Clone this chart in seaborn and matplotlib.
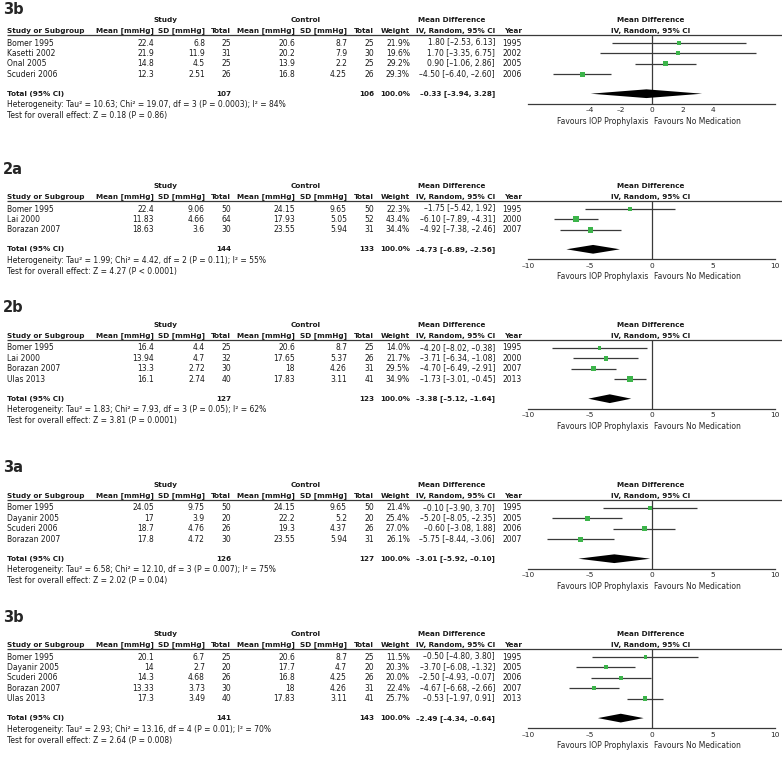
import numpy as np
import pandas as pd
import matplotlib.pyplot as plt
import seaborn as sns

# ---- panel 3b (top) ----
p1_label = "3b"
p1_names = ["Bomer 1995", "Kasetti 2002", "Onal 2005", "Scuderi 2006"]
p1_study_mean = [22.4, 21.9, 14.8, 12.3]
p1_study_sd = [6.8, 11.9, 4.5, 2.51]
p1_study_n = [25, 31, 25, 26]
p1_ctrl_mean = [20.6, 20.2, 13.9, 16.8]
p1_ctrl_sd = [8.7, 7.9, 2.2, 4.25]
p1_ctrl_n = [25, 30, 25, 26]
p1_weight = [21.9, 19.6, 29.2, 29.3]
p1_md = [1.80, 1.70, 0.90, -4.50]
p1_lo = [-2.53, -3.35, -1.06, -6.40]
p1_hi = [6.13, 6.75, 2.86, -2.60]
p1_year = [1995, 2002, 2005, 2006]
p1_total_n = [107, 106]
p1_total_md = [-0.33, -3.94, 3.28]
p1_het = "Heterogeneity: Tau² = 10.63; Chi² = 19.07, df = 3 (P = 0.0003); I² = 84%"
p1_test = "Test for overall effect: Z = 0.18 (P = 0.86)"
p1_ticks = [-4, -2, 0, 2, 4]
p1_xlim = (-8, 8)

# ---- panel 2a ----
p2_label = "2a"
p2_names = ["Bomer 1995", "Lai 2000", "Borazan 2007"]
p2_study_mean = [22.4, 11.83, 18.63]
p2_study_sd = [9.06, 4.66, 3.6]
p2_study_n = [50, 64, 30]
p2_ctrl_mean = [24.15, 17.93, 23.55]
p2_ctrl_sd = [9.65, 5.05, 5.94]
p2_ctrl_n = [50, 52, 31]
p2_weight = [22.3, 43.4, 34.4]
p2_md = [-1.75, -6.10, -4.92]
p2_lo = [-5.42, -7.89, -7.38]
p2_hi = [1.92, -4.31, -2.46]
p2_year = [1995, 2000, 2007]
p2_total_n = [144, 133]
p2_total_md = [-4.73, -6.89, -2.56]
p2_het = "Heterogeneity: Tau² = 1.99; Chi² = 4.42, df = 2 (P = 0.11); I² = 55%"
p2_test = "Test for overall effect: Z = 4.27 (P < 0.0001)"

# ---- panel 2b ----
p3_label = "2b"
p3_names = ["Bomer 1995", "Lai 2000", "Borazan 2007", "Ulas 2013"]
p3_study_mean = [16.4, 13.94, 13.3, 16.1]
p3_study_sd = [4.4, 4.7, 2.72, 2.74]
p3_study_n = [25, 32, 30, 40]
p3_ctrl_mean = [20.6, 17.65, 18, 17.83]
p3_ctrl_sd = [8.7, 5.37, 4.26, 3.11]
p3_ctrl_n = [25, 26, 31, 41]
p3_weight = [14.0, 21.7, 29.5, 34.9]
p3_md = [-4.20, -3.71, -4.70, -1.73]
p3_lo = [-8.02, -6.34, -6.49, -3.01]
p3_hi = [-0.38, -1.08, -2.91, -0.45]
p3_year = [1995, 2000, 2007, 2013]
p3_total_n = [127, 123]
p3_total_md = [-3.38, -5.12, -1.64]
p3_het = "Heterogeneity: Tau² = 1.83; Chi² = 7.93, df = 3 (P = 0.05); I² = 62%"
p3_test = "Test for overall effect: Z = 3.81 (P = 0.0001)"

# ---- panel 3a ----
p4_label = "3a"
p4_names = ["Bomer 1995", "Dayanir 2005", "Scuderi 2006", "Borazan 2007"]
p4_study_mean = [24.05, 17, 18.7, 17.8]
p4_study_sd = [9.75, 3.9, 4.76, 4.72]
p4_study_n = [50, 20, 26, 30]
p4_ctrl_mean = [24.15, 22.2, 19.3, 23.55]
p4_ctrl_sd = [9.65, 5.2, 4.37, 5.94]
p4_ctrl_n = [50, 20, 26, 31]
p4_weight = [21.4, 25.4, 27.0, 26.1]
p4_md = [-0.10, -5.20, -0.60, -5.75]
p4_lo = [-3.90, -8.05, -3.08, -8.44]
p4_hi = [3.70, -2.35, 1.88, -3.06]
p4_year = [1995, 2005, 2006, 2007]
p4_total_n = [126, 127]
p4_total_md = [-3.01, -5.92, -0.10]
p4_het = "Heterogeneity: Tau² = 6.58; Chi² = 12.10, df = 3 (P = 0.007); I² = 75%"
p4_test = "Test for overall effect: Z = 2.02 (P = 0.04)"

# ---- panel 3b (bottom) ----
p5_label = "3b"
p5_names = ["Bomer 1995", "Dayanir 2005", "Scuderi 2006", "Borazan 2007", "Ulas 2013"]
p5_study_mean = [20.1, 14, 14.3, 13.33, 17.3]
p5_study_sd = [6.7, 2.7, 4.68, 3.73, 3.49]
p5_study_n = [25, 20, 26, 30, 40]
p5_ctrl_mean = [20.6, 17.7, 16.8, 18, 17.83]
p5_ctrl_sd = [8.7, 4.7, 4.25, 4.26, 3.11]
p5_ctrl_n = [25, 20, 26, 31, 41]
p5_weight = [11.5, 20.3, 20.0, 22.4, 25.7]
p5_md = [-0.50, -3.70, -2.50, -4.67, -0.53]
p5_lo = [-4.80, -6.08, -4.93, -6.68, -1.97]
p5_hi = [3.80, -1.32, -0.07, -2.66, 0.91]
p5_year = [1995, 2005, 2006, 2007, 2013]
p5_total_n = [141, 143]
p5_total_md = [-2.49, -4.34, -0.64]
p5_het = "Heterogeneity: Tau² = 2.93; Chi² = 13.16, df = 4 (P = 0.01); I² = 70%"
p5_test = "Test for overall effect: Z = 2.64 (P = 0.008)"

ticks_10 = [-10, -5, 0, 5, 10]
xlim_10 = (-10, 10)


def make_panel(label, names, sm, ssd, sn, cm, csd, cn, w, md, lo, hi, yr, tn, tmd, het, test, ticks, xlim):
    df = pd.DataFrame({"name": names, "s_mean": sm, "s_sd": ssd, "s_n": sn,
                       "c_mean": cm, "c_sd": csd, "c_n": cn, "weight": w,
                       "md": md, "lo": lo, "hi": hi, "year": yr})
    df["row"] = np.arange(len(df))
    return dict(label=label, df=df, tn=tn, tmd=tmd, het=het, test=test, ticks=ticks, xlim=xlim)


panels = [
    make_panel(p1_label, p1_names, p1_study_mean, p1_study_sd, p1_study_n, p1_ctrl_mean, p1_ctrl_sd,
               p1_ctrl_n, p1_weight, p1_md, p1_lo, p1_hi, p1_year, p1_total_n, p1_total_md, p1_het, p1_test,
               p1_ticks, p1_xlim),
    make_panel(p2_label, p2_names, p2_study_mean, p2_study_sd, p2_study_n, p2_ctrl_mean, p2_ctrl_sd,
               p2_ctrl_n, p2_weight, p2_md, p2_lo, p2_hi, p2_year, p2_total_n, p2_total_md, p2_het, p2_test,
               ticks_10, xlim_10),
    make_panel(p3_label, p3_names, p3_study_mean, p3_study_sd, p3_study_n, p3_ctrl_mean, p3_ctrl_sd,
               p3_ctrl_n, p3_weight, p3_md, p3_lo, p3_hi, p3_year, p3_total_n, p3_total_md, p3_het, p3_test,
               ticks_10, xlim_10),
    make_panel(p4_label, p4_names, p4_study_mean, p4_study_sd, p4_study_n, p4_ctrl_mean, p4_ctrl_sd,
               p4_ctrl_n, p4_weight, p4_md, p4_lo, p4_hi, p4_year, p4_total_n, p4_total_md, p4_het, p4_test,
               ticks_10, xlim_10),
    make_panel(p5_label, p5_names, p5_study_mean, p5_study_sd, p5_study_n, p5_ctrl_mean, p5_ctrl_sd,
               p5_ctrl_n, p5_weight, p5_md, p5_lo, p5_hi, p5_year, p5_total_n, p5_total_md, p5_het, p5_test,
               ticks_10, xlim_10),
]

# layout (pixels)
W, H = 782, 757
label_ys = [10, 170, 307, 468, 617]
head_ys = [20, 186, 325, 485, 634]
ROW = 10.4
FS = 5.5
FSB = 5.2
GREEN = "#3cb44a"
LINE = "#3a3a3a"


def dash(s):
    return s.replace("-", "\u2013")


def ci_text(m, l, h):
    return dash(f"{m:.2f} [{l:.2f}, {h:.2f}]")


sns.set_style("white")
plt.rcParams["font.family"] = ["DejaVu Sans"]

fig = plt.figure(figsize=(W / 100, H / 100), dpi=100)
bg = fig.add_axes([0, 0, 1, 1])
bg.set_xlim(0, W)
bg.set_ylim(H, 0)
bg.axis("off")

# value columns: (key, right edge x, format)
cols = [("s_mean", 154, "{:g}"), ("s_sd", 205, "{:g}"), ("s_n", 231, "{:d}"),
        ("c_mean", 295, "{:g}"), ("c_sd", 347, "{:g}"), ("c_n", 374, "{:d}"),
        ("weight", 410, "{:.1f}%")]
col_heads = ["Mean [mmHg]", "SD [mmHg]", "Total", "Mean [mmHg]", "SD [mmHg]", "Total", "Weight"]
ZERO_X = 651

for p, ly, hy in zip(panels, label_ys, head_ys):
    df = p["df"]
    n = len(df)
    bold = dict(fontsize=FSB, fontweight="bold", va="center", color="#1a1a1a")
    norm = dict(fontsize=FS, va="center", color="#1a1a1a")

    bg.text(3, ly, p["label"], fontsize=10.5, fontweight="bold", va="center")
    bg.text(165, hy, "Study", ha="center", **bold)
    bg.text(306, hy, "Control", ha="center", **bold)
    bg.text(452, hy, "Mean Difference", ha="center", **bold)
    bg.text(ZERO_X, hy, "Mean Difference", ha="center", **bold)

    cy = hy + 11
    bg.text(7, cy, "Study or Subgroup", ha="left", **bold)
    for (key, x, fmt), head in zip(cols, col_heads):
        bg.text(x, cy, head, ha="right", **bold)
    bg.text(495, cy, "IV, Random, 95% CI", ha="right", **bold)
    bg.text(522, cy, "Year", ha="right", **bold)
    bg.text(ZERO_X, cy, "IV, Random, 95% CI", ha="center", **bold)

    rule_y = hy + 15
    bg.hlines(rule_y, 7, W, color=LINE, lw=0.9)

    first = hy + 23
    for i, r in df.iterrows():
        y = first + i * ROW
        bg.text(7, y, r["name"], ha="left", **norm)
        for key, x, fmt in cols:
            v = r[key]
            if fmt == "{:d}":
                v = int(v)
            bg.text(x, y, fmt.format(v), ha="right", **norm)
        bg.text(495, y, ci_text(r["md"], r["lo"], r["hi"]), ha="right", **norm)
        bg.text(522, y, str(int(r["year"])), ha="right", **norm)

    total_y = first + (n - 1) * ROW + 19.5
    bg.text(7, total_y, "Total (95% CI)", ha="left", **bold)
    bg.text(231, total_y, str(p["tn"][0]), ha="right", **bold)
    bg.text(374, total_y, str(p["tn"][1]), ha="right", **bold)
    bg.text(410, total_y, "100.0%", ha="right", **bold)
    bg.text(495, total_y, ci_text(*p["tmd"]), ha="right", **bold)
    bg.text(7, total_y + 11, p["het"], ha="left", **norm)
    bg.text(7, total_y + 22, p["test"], ha="left", **norm)

    # forest plot axes
    axis_y = total_y + 10
    ax = fig.add_axes([528 / W, 1 - axis_y / H, 247 / W, (axis_y - rule_y) / H])
    ax.set_facecolor("none")
    t_row = (n - 1) + 19.5 / ROW
    ax.set_ylim(t_row + 10 / ROW, -(first - rule_y) / ROW)
    ax.set_xlim(*p["xlim"])

    ax.hlines(df["row"], df["lo"], df["hi"], color=LINE, lw=0.9, zorder=2)
    sns.scatterplot(data=df, x="md", y="row", size="weight", sizes=(0, 45), size_norm=(0, 100),
                    marker="s", color=GREEN, linewidth=0, legend=False, ax=ax, zorder=3)
    ax.axvline(0, color=LINE, lw=0.9, zorder=1)

    m, l, h = p["tmd"]
    dh = 0.42
    ax.fill([l, m, h, m], [t_row, t_row - dh, t_row, t_row + dh], color="black", lw=0, zorder=3)

    for s in ["top", "left", "right"]:
        ax.spines[s].set_visible(False)
    ax.spines["bottom"].set_color(LINE)
    ax.spines["bottom"].set_linewidth(0.9)
    ax.set_yticks([])
    ax.set_xticks(p["ticks"])
    ax.set_xticklabels([dash(f"{t:g}") for t in p["ticks"]])
    ax.tick_params(axis="x", direction="out", length=2.5, width=0.8, color=LINE, labelsize=FS - 0.2, pad=0.2)
    ax.set_xlabel("")
    ax.set_ylabel("")

    ax.annotate("Favours IOP Prophylaxis", xy=(0, 0), xycoords=("data", "axes fraction"),
                xytext=(-2, -12.6), textcoords="offset points", ha="right", va="center", fontsize=FS)
    ax.annotate("Favours No Medication", xy=(0, 0), xycoords=("data", "axes fraction"),
                xytext=(1.5, -12.6), textcoords="offset points", ha="left", va="center", fontsize=FS)

plt.savefig("out.png", dpi=100)
